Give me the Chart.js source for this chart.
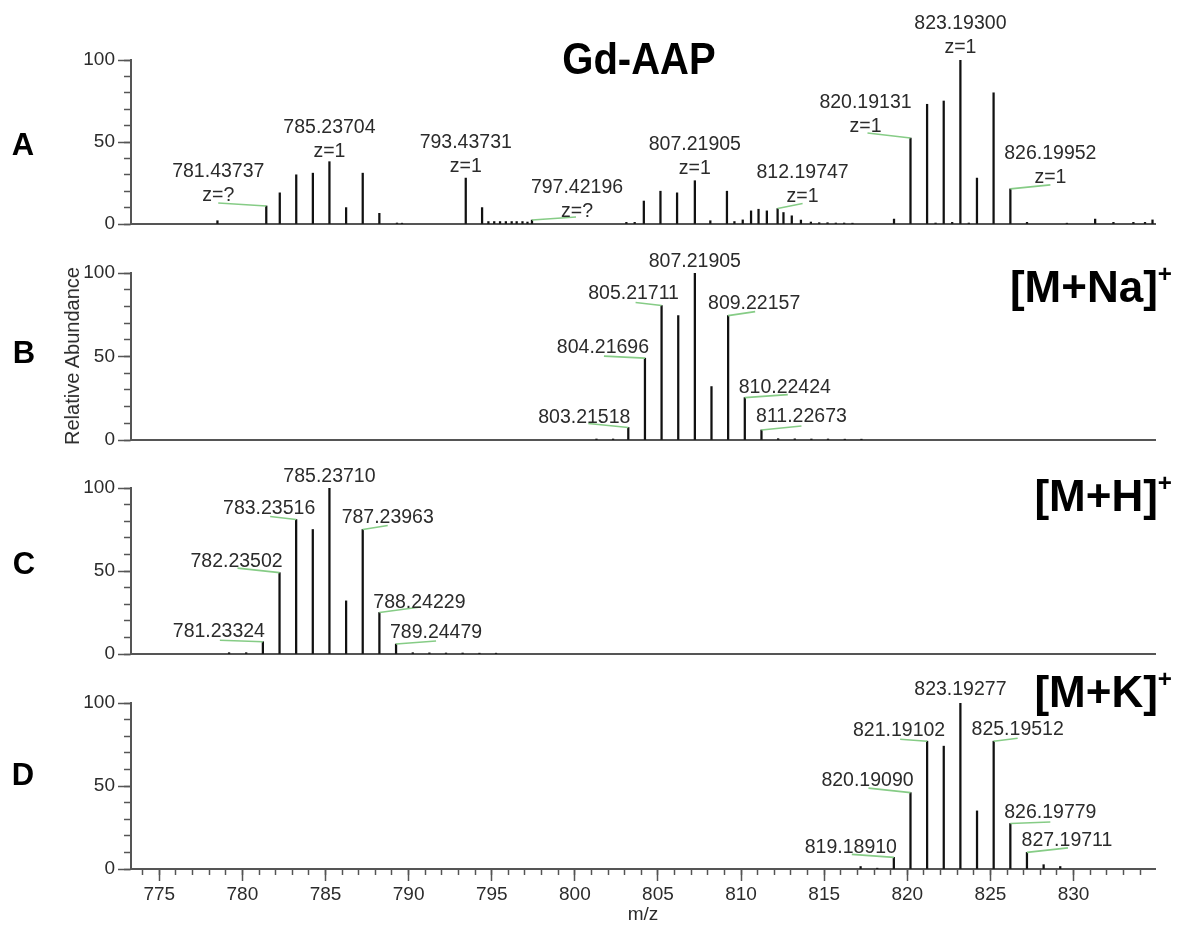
<!DOCTYPE html>
<html>
<head>
<meta charset="utf-8">
<script src="https://cdn.jsdelivr.net/npm/chart.js@4.4.0/dist/chart.umd.min.js"></script>
<style>
body { margin: 0; background: #fff; }
#fig { position: relative; width: 1182px; height: 929px; overflow: hidden; background: #fff; }
#fig canvas { position: absolute; left: 0; }
.txt { position: absolute; white-space: nowrap; color: #000; font-family: "Liberation Sans", Arial, sans-serif; line-height: 1; }
</style>
</head>
<body>
<div id="fig">
    <canvas id="panel_a" width="1182" height="240" style="top:0px"></canvas>
    <canvas id="panel_b" width="1182" height="240" style="top:216px"></canvas>
    <canvas id="panel_c" width="1182" height="240" style="top:430px"></canvas>
    <canvas id="panel_d" width="1182" height="283" style="top:646px"></canvas>
</div>
<script>
const X_MIN = 773.3
const X_MAX = 834.9

// A - full spectrum of Gd-AAP
const a_mz = [778.5, 781.43737, 782.25, 783.24, 784.24, 785.23704, 786.24, 787.24, 788.24, 789.3, 789.6,
    793.43731, 794.42, 794.8, 795.15, 795.5, 795.85, 796.2, 796.5, 796.85, 797.15, 797.42196,
    803.1, 803.6, 804.15, 805.15, 806.15, 807.21905, 808.15, 809.15, 809.6, 810.1,
    810.6, 811.05, 811.55, 812.19747, 812.55, 813.05, 813.6, 814.2, 814.7, 815.2, 815.7, 816.2, 816.7,
    819.2, 820.19131, 821.19, 821.7, 822.19, 822.7, 823.193, 823.7, 824.19, 825.19, 826.19952, 827.2,
    829.6, 831.3, 832.4, 833.6, 834.3, 834.75]
const a_int = [2, 11, 19, 30, 31, 38, 10, 31, 6.5, 0.6, 0.5,
    28, 10, 1.5, 1.5, 1.5, 1.5, 1.5, 1.5, 1.5, 1.2, 2.4,
    1, 1, 14, 20, 19, 26.4, 2, 20, 1.5, 2.5,
    8, 9, 8, 9.4, 7, 5, 2.4, 1.2, 0.8, 0.8, 0.6, 0.6, 0.5,
    3, 52.4, 73, 0.6, 75, 1, 100, 0.6, 28, 80, 21.4, 1,
    0.5, 3, 1, 1, 1, 2.5]
const a_label_mz = [781.43737, 785.23704, 793.43731, 797.42196, 807.21905, 812.19747, 820.19131, 823.193, 826.19952]
const a_label_text = [['781.43737', 'z=?'], ['785.23704', 'z=1'], ['793.43731', 'z=1'], ['797.42196', 'z=?'],
    ['807.21905', 'z=1'], ['812.19747', 'z=1'], ['820.19131', 'z=1'], ['823.19300', 'z=1'], ['826.19952', 'z=1']]

// B - [M+Na]+
const b_mz = [801.3, 802.3, 803.21518, 804.21696, 805.21711, 806.22, 807.21905, 808.22, 809.22157, 810.22424,
    811.22673, 812.23, 813.23, 814.23, 815.23, 816.24, 817.24]
const b_int = [0.6, 0.6, 7.5, 49, 80.5, 74.5, 100, 32, 74.5, 25.4, 6, 0.8, 0.7, 0.6, 0.6, 0.5, 0.5]
const b_label_mz = [803.21518, 804.21696, 805.21711, 807.21905, 809.22157, 810.22424, 811.22673]
const b_label_text = [['803.21518'], ['804.21696'], ['805.21711'], ['807.21905'], ['809.22157'], ['810.22424'], ['811.22673']]

// C - [M+H]+
const c_mz = [779.2, 780.23, 781.23324, 782.23502, 783.23516, 784.236, 785.2371, 786.24, 787.23963, 788.24229,
    789.24479, 790.25, 791.25, 792.25, 793.25, 794.26, 795.26]
const c_int = [0.8, 0.8, 7.4, 49, 81, 75, 100, 32, 75, 25, 6, 0.8, 0.7, 0.6, 0.6, 0.5, 0.5]
const c_label_mz = [781.23324, 782.23502, 783.23516, 785.2371, 787.23963, 788.24229, 789.24479]
const c_label_text = [['781.23324'], ['782.23502'], ['783.23516'], ['785.23710'], ['787.23963'], ['788.24229'], ['789.24479']]

// D - [M+K]+
const d_mz = [817.19, 818.19, 819.1891, 820.1909, 821.19102, 822.192, 823.19277, 824.194, 825.19512, 826.19779,
    827.19711, 828.2, 829.2]
const d_int = [1.5, 0.5, 7, 46, 77, 74, 100, 35, 77, 27.4, 10, 2.6, 1.5]
const d_label_mz = [819.1891, 820.1909, 821.19102, 823.19277, 825.19512, 826.19779, 827.19711]
const d_label_text = [['819.18910'], ['820.19090'], ['821.19102'], ['823.19277'], ['825.19512'], ['826.19779'], ['827.19711']]

// label placement in px relative to the peak top: [text dx, text dy, leader dx, leader dy]
const a_label_place = [[-48, -34, -48, -3], [0, -34], [0, -35], [45, -32, 44, -3], [0, -36],
    [25, -36, 25, -5], [-45, -35, -43, -5], [0, -36], [40, -35, 40, -4]]
const b_label_place = [[-44, -10, -40, -4], [-42, -10.5, -41, -2], [-28, -12, -26, -3], [0, -11],
    [26, -12, 27, -4], [40, -10, 43, -3], [40, -13, 40, -4]]
const c_label_place = [[-44, -10, -43, -1.5], [-43, -11, -42, -4.5], [-27, -11, -26, -3], [0, -11],
    [25, -12, 25, -4], [40, -10, 41, -5.5], [40, -11, 40, -3]]
const d_label_place = [[-43, -10, -42, -3], [-43, -12.5, -42, -4.5], [-28, -11, -27, -2], [0, -13],
    [24, -12, 24, -3], [40, -11, 40, -1.5], [40, -12, 41, -4.5]]

const FONT = '"Liberation Sans", Arial, sans-serif'
const AXIS_COLOR = '#555'
const TEXT_COLOR = '#2b2b2b'

const peak_label_plugin = (mz, inten, label_mz, label_text, place) => ({
    id: 'peakLabels',
    afterDraw(chart) {
        const ctx = chart.ctx
        const xs = chart.scales.x
        const ys = chart.scales.y
        ctx.save()
        ctx.font = `19.5px ${FONT}`
        ctx.fillStyle = TEXT_COLOR
        ctx.textAlign = 'center'
        ctx.textBaseline = 'middle'
        label_mz.forEach((m, i) => {
            const px = xs.getPixelForValue(m)
            const py = ys.getPixelForValue(inten[mz.indexOf(m)])
            const p = place[i]
            if (p.length > 2) {
                ctx.strokeStyle = '#86cc86'
                ctx.lineWidth = 1.6
                ctx.beginPath()
                ctx.moveTo(px, py)
                ctx.lineTo(px + p[2], py + p[3])
                ctx.stroke()
            }
            label_text[i].forEach((t, k) => ctx.fillText(t, px + p[0], py + p[1] + k * 24))
        })
        ctx.restore()
    }
})

const spectrum_panel = (canvas_id, mz, inten, label_mz, label_text, place, pad_top, bottom_axis) => {
    let canvas = document.getElementById(canvas_id)
    const x_main = bottom_axis ? {
        type: 'linear', min: X_MIN, max: X_MAX, offset: false,
        afterFit: (s) => { s.height = 60 },
        ticks: { stepSize: 5, includeBounds: false, maxTicksLimit: 200, padding: 2,
            color: TEXT_COLOR, font: { family: FONT, size: 19 } },
        grid: { offset: false, drawOnChartArea: false, tickLength: 12, tickColor: AXIS_COLOR, tickWidth: 1.5 },
        border: { color: AXIS_COLOR, width: 2 },
        title: { display: true, text: 'm/z', color: TEXT_COLOR, font: { family: FONT, size: 19 },
            padding: { top: 0, bottom: 3 } }
    } : {
        type: 'linear', min: X_MIN, max: X_MAX, offset: false,
        afterFit: (s) => { s.height = 16 },
        ticks: { display: false },
        grid: { offset: false, drawOnChartArea: false, drawTicks: false },
        border: { color: AXIS_COLOR, width: 2 }
    }
    const scales = {
        x: x_main,
        y: {
            min: 0, max: 100, position: 'left',
            afterFit: (s) => { s.width = 131 },
            ticks: { stepSize: 50, padding: 3, color: TEXT_COLOR, font: { family: FONT, size: 19 } },
            grid: { drawOnChartArea: false, tickLength: 13, tickColor: AXIS_COLOR, tickWidth: 1.5 },
            border: { color: AXIS_COLOR, width: 2 }
        },
        y_minor: {
            axis: 'y', min: 0, max: 100, position: { x: X_MIN },
            ticks: { stepSize: 10, display: false, maxTicksLimit: 200 },
            grid: { drawOnChartArea: false, tickLength: 7, tickColor: AXIS_COLOR, tickWidth: 1.5 },
            border: { display: false }
        }
    }
    if (bottom_axis) {
        scales.x_minor = {
            axis: 'x', type: 'linear', min: X_MIN, max: X_MAX, offset: false, position: { y: 0 },
            ticks: { stepSize: 1, display: false, includeBounds: false, maxTicksLimit: 200 },
            grid: { offset: false, drawOnChartArea: false, tickLength: 6, tickColor: AXIS_COLOR, tickWidth: 1.5 },
            border: { display: false }
        }
    }
    const config = {
        type: 'bar',
        data: {
            datasets: [{
                data: mz.map((m, i) => ({ x: m, y: inten[i] })),
                backgroundColor: '#111',
                borderWidth: 0,
                barThickness: 1.6,
                xAxisID: 'x',
                yAxisID: 'y'
            }]
        },
        options: {
            responsive: false,
            animation: false,
            layout: { padding: { top: pad_top, right: 27, left: 0, bottom: 0 } },
            scales: scales,
            plugins: { legend: { display: false }, tooltip: { enabled: false } }
        },
        plugins: [peak_label_plugin(mz, inten, label_mz, label_text, place)]
    }
    new Chart(canvas, config)
}

spectrum_panel('panel_a', a_mz, a_int, a_label_mz, a_label_text, a_label_place, 60, false)
spectrum_panel('panel_b', b_mz, b_int, b_label_mz, b_label_text, b_label_place, 57, false)
spectrum_panel('panel_c', c_mz, c_int, c_label_mz, c_label_text, c_label_place, 58, false)
spectrum_panel('panel_d', d_mz, d_int, d_label_mz, d_label_text, d_label_place, 57, true)

// figure annotations (letters, title, adduct names, y axis title)
const fig = document.getElementById('fig')
const add_text = (html, style) => {
    const el = document.createElement('div')
    el.className = 'txt'
    el.innerHTML = html
    Object.assign(el.style, style)
    fig.appendChild(el)
}
const centered = (cx, cy, size, extra) => Object.assign({ left: cx + 'px', top: cy + 'px', fontSize: size + 'px',
    transform: 'translate(-50%, -50%)' }, extra || {})

add_text('A', centered(23, 144, 31, { fontWeight: 'bold' }))
add_text('B', centered(24, 352, 31, { fontWeight: 'bold' }))
add_text('C', centered(24, 563, 31, { fontWeight: 'bold' }))
add_text('D', centered(23, 774, 31, { fontWeight: 'bold' }))
add_text('Gd-AAP', centered(639, 59, 44, { fontWeight: 'bold', transform: 'translate(-50%, -50%) scaleX(0.91)' }))

const sup = '<span style="font-size:0.55em;position:relative;top:-0.85em">+</span>'
const adduct = (name, cy) => add_text(name + sup, { right: '10px', top: (cy - 0.49 * 44) + 'px',
    fontSize: '44px', fontWeight: 'bold' })
adduct('[M+Na]', 287)
adduct('[M+H]', 496)
adduct('[M+K]', 692)

add_text('Relative Abundance', centered(72, 356, 20, { color: TEXT_COLOR,
    transform: 'translate(-50%, -50%) rotate(-90deg)' }))
</script>
</body>
</html>
